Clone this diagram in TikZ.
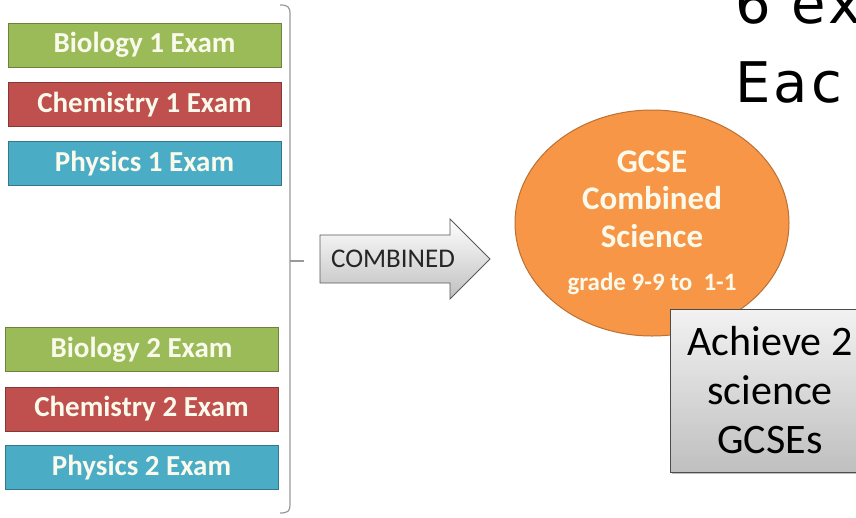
\documentclass[tikz,border=0pt]{standalone}
\usepackage{fontspec}
\setmainfont{Carlito}
\newfontfamily\titlefont[LetterSpace=6]{DejaVu Sans}
\usetikzlibrary{shapes.geometric,shapes.arrows,shadows}

\definecolor{biogreen}{HTML}{9BBB59}
\definecolor{chemred}{HTML}{C0504D}
\definecolor{physblue}{HTML}{4BACC6}
\definecolor{gcseorange}{HTML}{F79646}
\definecolor{labeltext}{HTML}{FAFAEC}

\tikzset{
  exam/.style={draw=#1!70!black, fill=#1, line width=1pt, minimum width=273pt,
    minimum height=44pt, inner sep=0pt, text=labeltext,
    font=\fontsize{29}{31}\selectfont\bfseries},
  combinedarrow/.style={single arrow, draw=black!65, line width=0.8pt,
    top color=white, bottom color=black!25, minimum width=80pt,
    minimum height=170pt, single arrow head indent=0pt,
    inner xsep=0pt, inner ysep=1.5pt, text=black!85,
    font=\fontsize{27}{29}\selectfont},
  gcse/.style={ellipse, draw=gcseorange!75!black, fill=gcseorange,
    line width=1pt, minimum width=274pt, minimum height=226pt,
    inner sep=0pt, text=labeltext, align=center,
    font=\fontsize{33}{37.5}\selectfont\bfseries},
  resultbox/.style={draw=black!70, line width=1pt, top color=black!5,
    bottom color=black!25, drop shadow, minimum width=200pt,
    minimum height=163pt, align=center,
    font=\fontsize{42}{49}\selectfont},
  heading/.style={anchor=base west, inner sep=0pt,
    font=\titlefont\fontsize{56}{62}\selectfont},
}

\begin{document}
\begin{tikzpicture}[x=1pt,y=-1pt]
   \clip (0,0) rectangle (856,517);

   % 試験
   \node [exam=biogreen]  (bio1)  at (144.5,45)    {Biology 1 Exam};
   \node [exam=chemred]   (chem1) at (144.5,104.5) {Chemistry 1 Exam};
   \node [exam=physblue]  (phys1) at (144.5,163.5) {Physics 1 Exam};
   \node [exam=biogreen]  (bio2)  at (141.5,349.5) {Biology 2 Exam};
   \node [exam=chemred]   (chem2) at (141.5,409)   {Chemistry 2 Exam};
   \node [exam=physblue]  (phys2) at (141.5,467.5) {Physics 2 Exam};

   % 括弧
   \draw [black!40, line width=1.2pt]
      (280,5) .. controls (288,5) and (290,7) .. (290,14) -- (290,505)
      .. controls (290,511) and (288,513) .. (280,513);
   \draw [black!40, line width=1.2pt] (290,261) -- (304,261);

   \node [combinedarrow] (arrow) at (393,259) {COMBINED};

   \node [gcse] (gcse) at (652,223)
      {GCSE\\Combined\\Science\\[6pt]
       {\fontsize{25}{28}\selectfont grade 9-9 to\ \ 1-1}};

   \node [resultbox] (result) at (770,390.5) {Achieve 2\\science\\GCSEs};

   % 見出し（切れている）
   \node [heading] (title1) at (735,23)  {6 ex};
   \node [heading] (title2) at (735,102) {Eac};
\end{tikzpicture}
\end{document}
